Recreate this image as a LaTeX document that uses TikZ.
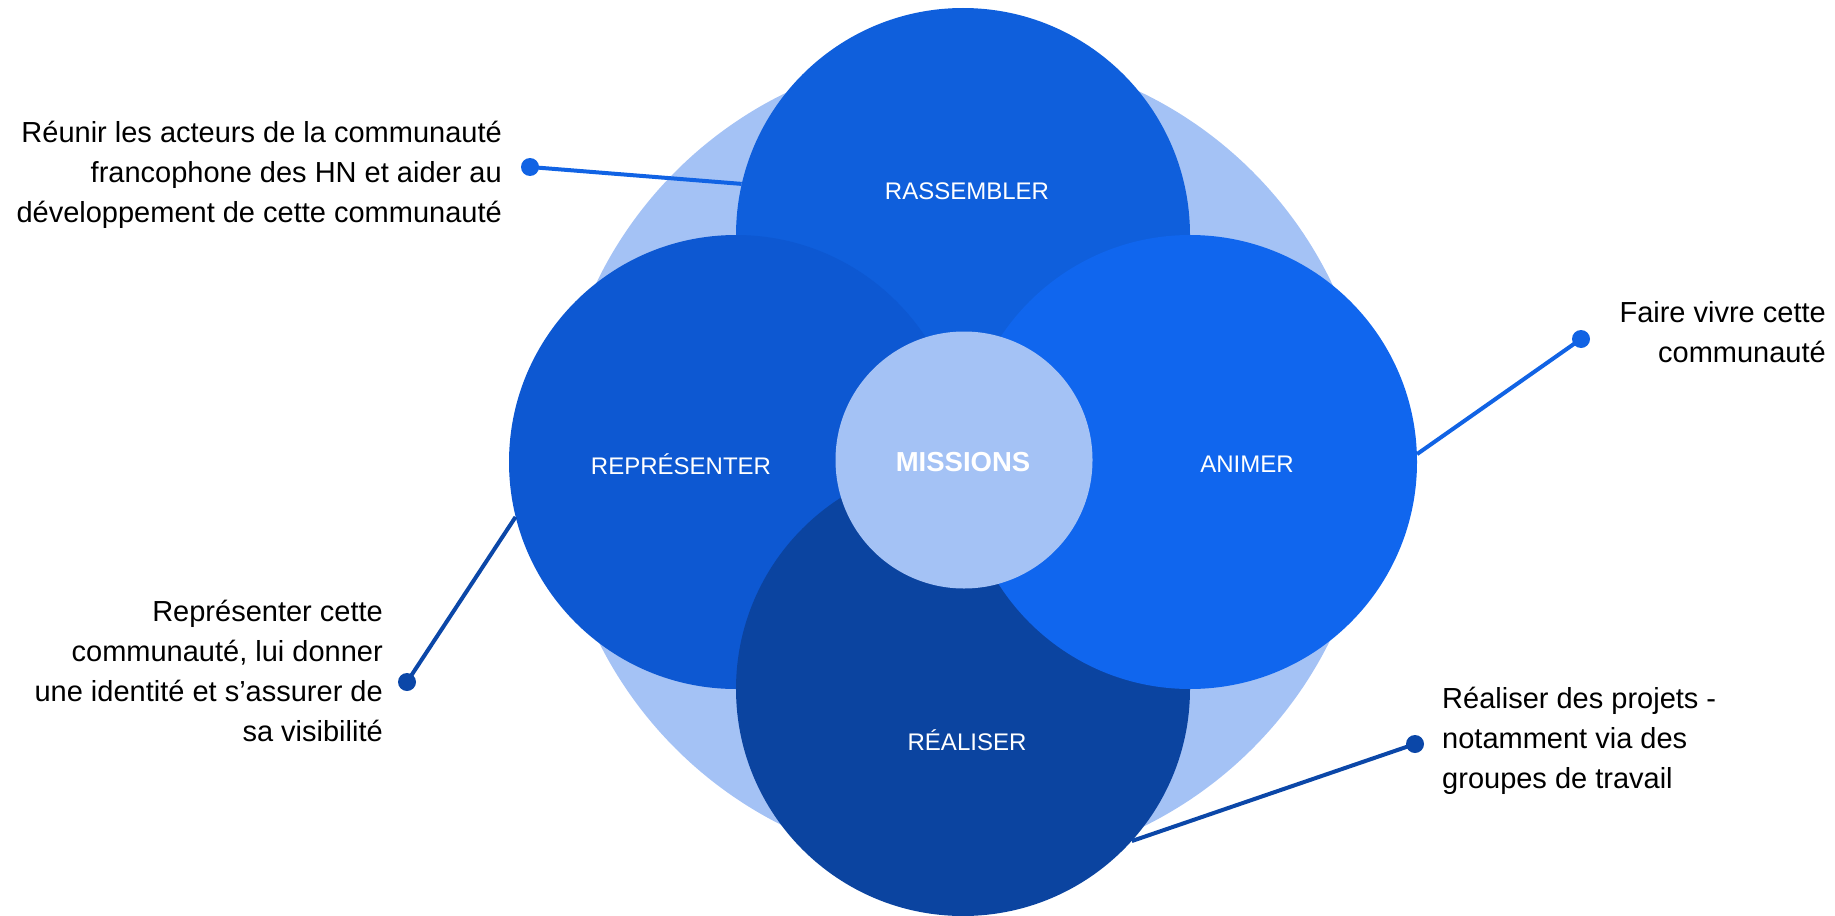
\documentclass[tikz,border=0pt]{standalone}
\usepackage{fontspec}
\setmainfont{Liberation Sans}
\definecolor{light}{HTML}{A4C2F5}
\definecolor{cTop}{HTML}{0F5FDC}
\definecolor{cLeft}{HTML}{0D58D2}
\definecolor{cRight}{HTML}{1066EE}
\definecolor{cBot}{HTML}{0B44A0}
\definecolor{lnA}{HTML}{1163E4}
\definecolor{lnB}{HTML}{0B47A8}
\begin{document}
\begin{tikzpicture}[x=1pt,y=-1pt,
  petal/.style={circle,inner sep=0pt,minimum size=454pt},
  lbl/.style={text=white,font=\fontsize{24}{28}\selectfont,inner sep=0pt,text height=17pt,text depth=0pt},
  desc/.style={font=\fontsize{29}{40}\selectfont,inner sep=0pt},
  dotnode/.style={circle,inner sep=0pt,minimum size=18pt},
  link/.style={line width=4pt}]
\useasboundingbox (0,0) rectangle (1835,915);
\node[circle,fill=light,minimum size=816pt,inner sep=0pt] (bg) at (964,460) {};
\node[petal,fill=cTop] (top) at (963,235) {};
\node[petal,fill=cLeft] (left) at (736,462) {};
\node[petal,fill=cBot] (bot) at (963,689) {};
\node[petal,fill=cRight] (right) at (1190,462) {};
\node[circle,fill=light,minimum size=257pt,inner sep=0pt] (mid) at (964,460) {};
\node[lbl] (lR) at (967,191) {RASSEMBLER};
\node[lbl] (lP) at (681,466) {REPRÉSENTER};
\node[lbl] (lA) at (1247,464) {ANIMER};
\node[lbl] (lE) at (967,742) {RÉALISER};
\node[text=white,font=\bfseries\fontsize{27.5}{32}\selectfont,inner sep=0pt,text height=20pt,text depth=0pt] (lM) at (963,461) {MISSIONS};
% dots
\node[dotnode,fill=lnA] (d1) at (530,167) {};
\node[dotnode,fill=lnA] (d2) at (1581,339) {};
\node[dotnode,fill=lnB] (d3) at (407,682) {};
\node[dotnode,fill=lnB] (d4) at (1415,744) {};
\draw[link,lnA] (d1.center) -- (top.167);
\draw[link,lnA] (d2.center) -- (right.2.5);
\draw[link,lnB] (d3.center) -- (left.194.5);
\draw[link,lnB] (d4.center) -- (bot.-42);
% texts (base anchor = baseline of last line)
\node[desc,align=right,anchor=base east] (t1) at (502,222) {Réunir les acteurs de la communauté\\francophone des HN et aider au\\développement de cette communauté};
\node[desc,align=right,anchor=base east] (t2) at (1826,362) {Faire vivre cette\\communauté};
\node[desc,align=right,anchor=base east] (t3) at (383,741) {Représenter cette\\communauté, lui donner\\une identité et s’assurer de\\sa visibilité};
\node[desc,align=left,anchor=base west] (t4) at (1442,788) {Réaliser des projets -\\notamment via des\\groupes de travail};
\end{tikzpicture}
\end{document}
